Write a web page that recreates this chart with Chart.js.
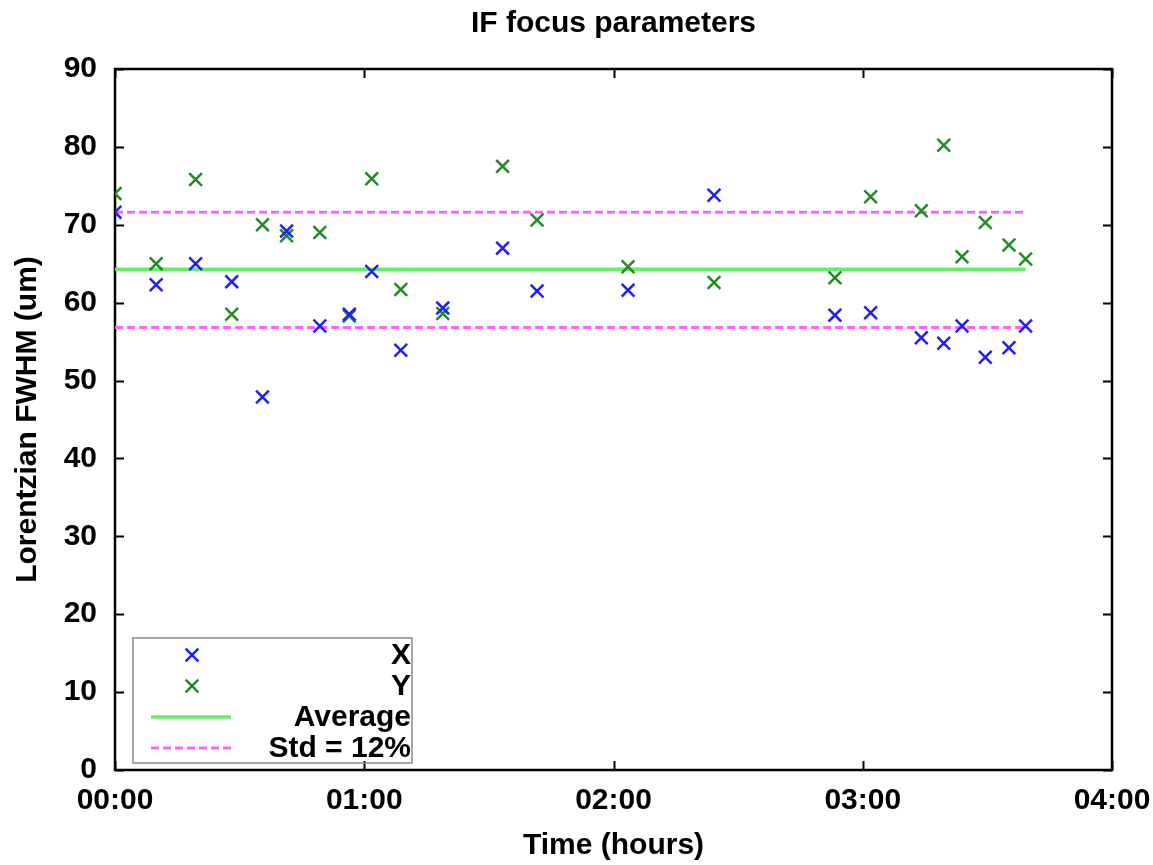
<!DOCTYPE html>
<html>
<head>
<meta charset="utf-8">
<script src="https://cdn.jsdelivr.net/npm/chart.js@4/dist/chart.umd.min.js"></script>
<style>
  html, body { margin: 0; padding: 0; background: #fff; }
  #wrap { width: 1153px; height: 865px; }
</style>
</head>
<body>
<div id="wrap"><canvas id="c" width="1153" height="865"></canvas></div>
<script>
// ---- data (time in minutes since 00:00) ----
const timesMin = [0, 9.9, 19.4, 28.1, 35.5, 41.3, 49.3, 56.4, 61.8, 68.8, 78.9, 93.3, 101.6, 123.5, 144.2, 173.3, 181.9, 194.1, 199.5, 203.9, 209.5, 215.2, 219.2];
const xFwhm = [71.6, 62.3, 65.0, 62.7, 47.9, 69.2, 57.0, 58.5, 64.0, 53.9, 59.3, 67.0, 61.5, 61.6, 73.8, 58.4, 58.7, 55.5, 54.8, 57.0, 53.0, 54.2, 57.0];
const yFwhm = [74.0, 65.0, 75.8, 58.5, 70.0, 68.6, 69.0, 58.3, 75.9, 61.7, 58.6, 77.5, 70.6, 64.6, 62.6, 63.2, 73.6, 71.8, 80.2, 65.9, 70.3, 67.4, 65.6];
const lineTimes = [0, 219.2];
const averageValues = [64.3, 64.3];
const stdUpperValues = [71.6, 71.6];
const stdLowerValues = [56.8, 56.8];
const timeTickLabels = ['00:00', '01:00', '02:00', '03:00', '04:00'];
const yTickLabels = ['0', '10', '20', '30', '40', '50', '60', '70', '80', '90'];
const seriesLabels = ['X', 'Y', 'Average', 'Std = 12%'];

const toPts = (xs, ys) => xs.map((x, i) => ({ x: x, y: ys[i] }));

const BLUE = 'rgb(30,30,255)';
const GREEN = 'rgb(34,139,34)';
const AVG = 'rgb(100,240,100)';
const STD = 'rgb(255,100,255)';
const FONT = "'Liberation Sans', Arial, Helvetica, sans-serif";

const frameTicksPlugin = {
  id: 'frameTicks',
  beforeDatasetsDraw(chart) {
    const { ctx, chartArea: a } = chart;
    const xs = chart.scales.x, ys = chart.scales.y;
    const len = 9;
    ctx.save();
    ctx.strokeStyle = '#000';
    ctx.lineWidth = 2;
    xs.ticks.forEach(t => {
      const px = Math.round(xs.getPixelForValue(t.value)) + 0.5;
      ctx.beginPath();
      ctx.moveTo(px, a.bottom); ctx.lineTo(px, a.bottom - len);
      ctx.moveTo(px, a.top); ctx.lineTo(px, a.top + len);
      ctx.stroke();
    });
    ys.ticks.forEach(t => {
      const py = Math.round(ys.getPixelForValue(t.value)) + 0.5;
      ctx.beginPath();
      ctx.moveTo(a.left, py); ctx.lineTo(a.left + len, py);
      ctx.moveTo(a.right, py); ctx.lineTo(a.right - len, py);
      ctx.stroke();
    });
    ctx.lineWidth = 2.5;
    ctx.strokeRect(a.left, a.top, a.right - a.left, a.bottom - a.top);
    ctx.restore();
  }
};

const keyPlugin = {
  id: 'keyBox',
  afterDraw(chart) {
    const { ctx, chartArea: a } = chart;
    const entries = chart.data.datasets.filter(d => !d.legendHidden);
    const rowH = 31;
    const left = a.left + 18, right = 412;
    const bottom = a.bottom - 7;
    const top = bottom - entries.length * rowH - 1;
    ctx.save();
    ctx.strokeStyle = '#8a8a8a';
    ctx.lineWidth = 1.5;
    ctx.strokeRect(left, top, right - left, bottom - top);
    entries.forEach((d, i) => {
      const cy = top + 17 + i * rowH;
      if (d.showLine === false) {
        ctx.strokeStyle = d.borderColor;
        ctx.fillStyle = d.borderColor;
        ctx.lineWidth = d.pointBorderWidth;
        Chart.helpers.drawPoint(ctx, { pointStyle: d.pointStyle, radius: d.pointRadius, borderWidth: d.pointBorderWidth, rotation: 0 }, left + 59, cy);
      } else {
        ctx.strokeStyle = d.borderColor;
        ctx.lineWidth = d.borderWidth;
        ctx.setLineDash(d.borderDash || []);
        ctx.beginPath();
        ctx.moveTo(left + 18, cy); ctx.lineTo(left + 98, cy);
        ctx.stroke();
        ctx.setLineDash([]);
      }
      ctx.fillStyle = '#000';
      ctx.font = 'bold 30px ' + FONT;
      ctx.textAlign = 'right';
      ctx.textBaseline = 'middle';
      ctx.fillText(d.label, right - 1, cy + 1);
    });
    ctx.restore();
  }
};

new Chart(document.getElementById('c'), {
  type: 'scatter',
  data: {
    datasets: [
      { label: seriesLabels[0], data: toPts(timesMin, xFwhm), showLine: false,
        pointStyle: 'crossRot', pointRadius: 9, pointHoverRadius: 9, pointBorderWidth: 2.5,
        borderColor: BLUE, backgroundColor: BLUE },
      { label: seriesLabels[1], data: toPts(timesMin, yFwhm), showLine: false,
        pointStyle: 'crossRot', pointRadius: 9, pointHoverRadius: 9, pointBorderWidth: 2.5,
        borderColor: GREEN, backgroundColor: GREEN },
      { label: seriesLabels[2], data: toPts(lineTimes, averageValues), showLine: true,
        pointRadius: 0, borderColor: AVG, borderWidth: 3.5, backgroundColor: AVG },
      { label: seriesLabels[3], data: toPts(lineTimes, stdUpperValues), showLine: true,
        pointRadius: 0, borderColor: STD, borderWidth: 3, borderDash: [8, 4], backgroundColor: STD },
      { label: seriesLabels[3], data: toPts(lineTimes, stdLowerValues), showLine: true, legendHidden: true,
        pointRadius: 0, borderColor: STD, borderWidth: 3, borderDash: [8, 4], backgroundColor: STD }
    ]
  },
  options: {
    responsive: false,
    animation: false,
    layout: { padding: { left: 0, right: 41, top: 0, bottom: 0 } },
    plugins: {
      legend: { display: false },
      tooltip: { enabled: false },
      title: {
        display: true, text: 'IF focus parameters', fullSize: false, color: '#000',
        font: { family: FONT, size: 30, weight: 'bold' },
        padding: { top: 6, bottom: 27 }
      }
    },
    scales: {
      x: {
        type: 'linear', min: 0, max: 240,
        grid: { display: false, drawTicks: false },
        border: { display: false },
        ticks: {
          stepSize: 60, padding: 13, color: '#000', maxRotation: 0,
          font: { family: FONT, size: 30, weight: 'bold' },
          callback: (v) => timeTickLabels[Math.round(v / 60)]
        },
        title: { display: true, text: 'Time (hours)', color: '#000',
          font: { family: FONT, size: 30, weight: 'bold' }, padding: { top: 0, bottom: 1 } },
        afterFit: (s) => { s.height = 95; s.paddingLeft = 0; s.paddingRight = 0; }
      },
      y: {
        type: 'linear', min: 0, max: 90,
        grid: { display: false, drawTicks: false },
        border: { display: false },
        ticks: {
          stepSize: 10, padding: 18, color: '#000',
          font: { family: FONT, size: 30, weight: 'bold' },
          callback: (v) => yTickLabels[Math.round(v / 10)]
        },
        title: { display: true, text: 'Lorentzian FWHM (um)', color: '#000',
          font: { family: FONT, size: 30, weight: 'bold' }, padding: { top: 10, bottom: 0 } },
        afterFit: (s) => { s.width = 115; s.paddingTop = 0; s.paddingBottom = 0; }
      }
    }
  },
  plugins: [frameTicksPlugin, keyPlugin]
});
</script>
</body>
</html>
